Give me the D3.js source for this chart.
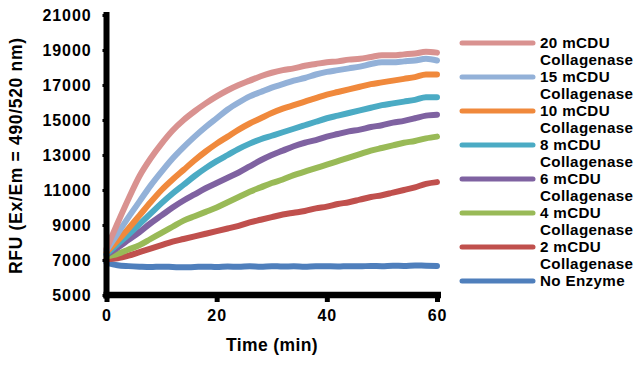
<!DOCTYPE html>
<html>
<head>
<meta charset="utf-8">
<script src="https://cdn.jsdelivr.net/npm/d3@7"></script>
<style>
  html, body { margin: 0; padding: 0; background: #fff; }
  svg { display: block; font-family: "Liberation Sans", Arial, sans-serif; font-weight: bold; }
</style>
</head>
<body>
<svg id="chart" width="640" height="366"></svg>
<script>
const times = [0,2,4,6,8,10,12,14,16,18,20,22,24,26,28,30,32,34,36,38,40,42,44,46,48,50,52,54,56,58,60];

const seriesNames = ["20 mCDU Collagenase","15 mCDU Collagenase","10 mCDU Collagenase","8 mCDU Collagenase","6 mCDU Collagenase","4 mCDU Collagenase","2 mCDU Collagenase","No Enzyme"];
const seriesColors = ["#d99290","#93b1d8","#f0893c","#4babc4","#7f62a1","#99ba57","#c0504d","#4f7fbc"];

const c20 = [7650,9100,10500,11800,12800,13650,14400,15000,15500,15950,16350,16700,17000,17250,17500,17700,17850,17950,18100,18200,18300,18350,18450,18500,18600,18700,18700,18750,18800,18900,18850];
const c15 = [7550,8500,9450,10350,11250,12050,12800,13450,14050,14600,15100,15600,16000,16350,16600,16850,17050,17250,17400,17600,17750,17850,17950,18050,18200,18300,18300,18350,18400,18500,18400];
const c10 = [7450,8100,8800,9550,10300,11000,11600,12150,12700,13200,13650,14050,14450,14800,15100,15400,15650,15850,16050,16250,16450,16600,16750,16900,17050,17150,17250,17350,17450,17600,17600];
const c8  = [7350,7900,8450,9050,9650,10250,10800,11300,11800,12250,12650,13000,13350,13650,13900,14100,14300,14500,14700,14900,15100,15250,15400,15550,15700,15850,15950,16050,16150,16300,16300];
const c6  = [7300,7700,8150,8600,9100,9550,10000,10400,10750,11100,11400,11700,12000,12350,12700,13000,13250,13500,13700,13850,14050,14200,14350,14450,14600,14700,14850,14950,15100,15250,15300];
const c4  = [7200,7350,7600,7850,8200,8550,8900,9250,9500,9750,10000,10300,10600,10900,11150,11400,11600,11850,12050,12250,12450,12650,12850,13050,13250,13400,13550,13700,13800,13950,14050];
const c2  = [7050,7100,7250,7450,7650,7850,8050,8200,8350,8500,8650,8800,8950,9150,9300,9450,9600,9700,9800,9950,10050,10200,10300,10450,10600,10700,10850,11000,11150,11350,11450];
const c0  = [6850,6700,6650,6620,6600,6620,6600,6580,6600,6620,6600,6630,6610,6640,6620,6650,6630,6640,6620,6650,6640,6630,6650,6640,6660,6650,6670,6660,6690,6670,6660];

const seriesValues = [c20,c15,c10,c8,c6,c4,c2,c0];

const yTicks = [5000,7000,9000,11000,13000,15000,17000,19000,21000];
const xTicks = [0,20,40,60];

const svg = d3.select("#chart");
const x = d3.scaleLinear().domain([0,60]).range([106.5,437]);
const y = d3.scaleLinear().domain([5000,21000]).range([295,15]);

const line = d3.line().x((d,i)=>x(times[i])).y(d=>y(d)).curve(d3.curveMonotoneX);
const order = [7,6,5,4,3,2,1,0];
order.forEach(k=>{
  svg.append("path")
    .attr("d", line(seriesValues[k]))
    .attr("fill","none")
    .attr("stroke", seriesColors[k])
    .attr("stroke-width", 6)
    .attr("stroke-linejoin","round")
    .attr("stroke-linecap","round");
});

// Y axis
const yAxis = d3.axisLeft(y).tickValues(yTicks).tickSize(4).tickPadding(11).tickFormat(d3.format("d"));
const gy = svg.append("g").attr("transform","translate(106.5,0)").call(yAxis);
gy.select(".domain").remove();
gy.selectAll(".tick line").attr("stroke","#000").attr("stroke-width",3).attr("x1",-2.5);
gy.selectAll(".tick text").attr("font-size",16).attr("font-weight","bold")
  .attr("font-family","Liberation Sans, Arial, sans-serif").attr("fill","#000")
  .attr("letter-spacing",0.9).attr("dy","0.36em");
svg.append("line").attr("x1",106.5).attr("x2",106.5).attr("y1",y(21000)-3).attr("y2",y(5000)+3.5)
  .attr("stroke","#000").attr("stroke-width",6);

// X axis
const xAxis = d3.axisBottom(x).tickValues(xTicks).tickSize(7).tickPadding(8);
const gx = svg.append("g").attr("transform","translate(0,295)").call(xAxis);
gx.select(".domain").remove();
gx.selectAll(".tick line").attr("stroke","#000").attr("stroke-width",5);
gx.selectAll(".tick text").attr("font-size",16).attr("font-weight","bold")
  .attr("font-family","Liberation Sans, Arial, sans-serif").attr("fill","#000")
  .attr("letter-spacing",0.9);
svg.append("line").attr("x1",103.5).attr("x2",441).attr("y1",295).attr("y2",295)
  .attr("stroke","#000").attr("stroke-width",6.5);

// axis titles
svg.append("text").attr("x",272).attr("y",351).attr("text-anchor","middle")
  .attr("font-size",17.5).attr("letter-spacing",0.4).text("Time (min)");
svg.append("text").attr("transform","translate(22,156) rotate(-90)").attr("text-anchor","middle")
  .attr("font-size",17.5).attr("textLength",236).attr("lengthAdjust","spacing")
  .text("RFU (Ex/Em = 490/520 nm)");

// legend
const lg = svg.append("g");
seriesNames.forEach((name,i)=>{
  const yy = 43 + i*34;
  lg.append("line").attr("x1",462).attr("x2",533).attr("y1",yy).attr("y2",yy)
    .attr("stroke",seriesColors[i]).attr("stroke-width",5).attr("stroke-linecap","round");
  const parts = name.startsWith("No") ? [name] : [name.replace(" Collagenase",""),"Collagenase"];
  parts.forEach((p,j)=>{
    lg.append("text").attr("x",540).attr("y",yy + j*17).attr("dy","0.36em")
      .attr("font-size",15.2).attr("letter-spacing",0.35).attr("fill","#000").text(p);
  });
});
</script>
</body>
</html>
